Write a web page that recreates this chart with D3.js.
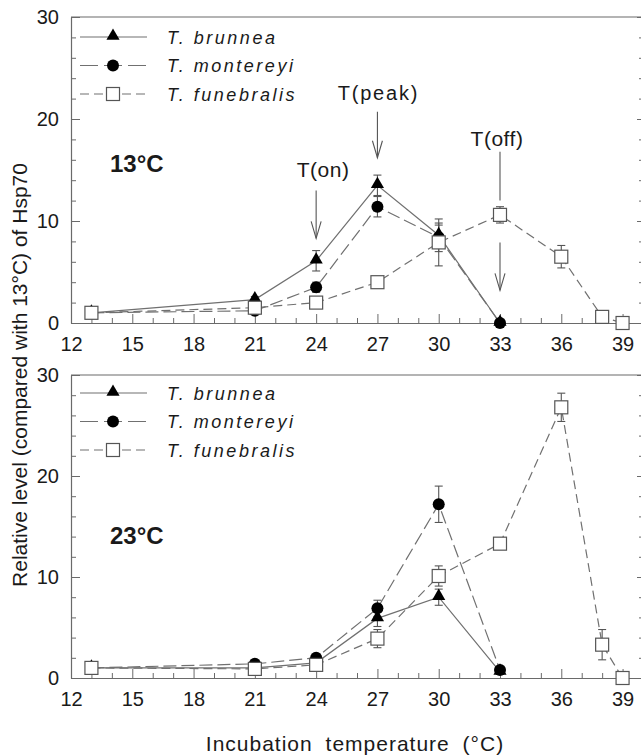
<!DOCTYPE html>
<html>
<head>
<meta charset="utf-8">
<script src="https://cdn.jsdelivr.net/npm/d3@7"></script>
<style>
  body { margin: 0; background: #fff; }
  svg text { font-family: "Liberation Sans", Arial, sans-serif; fill: #1a1a1a; }
</style>
</head>
<body>
<svg id="chart" width="641" height="756"></svg>
<script>
////////////////////////////////////////////////////////////
// DATA
////////////////////////////////////////////////////////////
var series_names = ["T. brunnea", "T. montereyi", "T. funebralis"];
var temps_short = [13, 21, 24, 27, 30, 33];
var temps_long = [13, 21, 24, 27, 30, 33, 36, 38, 39];

// 13°C acclimated
var brunnea13 = [1.0, 2.3, 6.1, 13.5, 8.6, 0];
var brunnea13_err = [0.3, 0.3, 1.0, 1.0, 1.0, 0];
var montereyi13 = [1.0, 1.2, 3.5, 11.4, 8.4, 0];
var montereyi13_err = [0.2, 0.3, 0.5, 1.0, 1.4, 0];
var funebralis13 = [1.0, 1.5, 2.0, 4.0, 7.9, 10.6, 6.5, 0.6, 0];
var funebralis13_err = [0.2, 0.2, 0.2, 0.3, 2.3, 0.8, 1.1, 0.2, 0];

// 23°C acclimated
var brunnea23 = [1.0, 1.0, 1.5, 5.9, 8.0, 0.6];
var brunnea23_err = [0.2, 0.2, 0.2, 0.8, 0.8, 0.1];
var montereyi23 = [1.0, 1.4, 2.0, 6.9, 17.2, 0.8];
var montereyi23_err = [0.2, 0.2, 0.2, 0.8, 1.8, 0.1];
var funebralis23 = [1.0, 0.9, 1.3, 3.9, 10.1, 13.3, 26.8, 3.3, 0];
var funebralis23_err = [0.4, 0.2, 0.2, 0.9, 1.0, 0, 1.4, 1.5, 0];

var x_major = [12, 15, 18, 21, 24, 27, 30, 33, 36, 39];
var y_major = [0, 10, 20, 30];

// annotation arrows (temperature, top value, tip value) for the 13°C panel
var arrow_temps = [24, 27, 33, 33];
var arrow_tops = [13.0, 20.7, 16.8, 7.9];
var arrow_tips = [8.3, 16.2, 12.0, 3.2];
var arrow_heads = [true, true, false, true];

////////////////////////////////////////////////////////////
// DRAWING
////////////////////////////////////////////////////////////
var svg = d3.select("#chart");
var AXIS = "#6a6a6a";
var LINE = "#707070";

var x = d3.scaleLinear().domain([12, 40]).range([71, 643]);
var x_minor = d3.range(12, 41).filter(function(v) { return x_major.indexOf(v) < 0; });
var y_minor = d3.range(0, 31, 2).filter(function(v) { return y_major.indexOf(v) < 0; });

var styles = [
    {dash: null, marker: "triangle"},
    {dash: "13,5", marker: "circle"},
    {dash: "9,5", marker: "square"}
];

function draw_marker(g, kind, cx, cy) {
    if (kind == "triangle") {
        g.append("path")
            .attr("d", d3.symbol().type(d3.symbolTriangle).size(75)())
            .attr("transform", "translate(" + cx + "," + (cy - 1) + ")")
            .attr("fill", "#000");
    } else if (kind == "circle") {
        g.append("circle").attr("cx", cx).attr("cy", cy).attr("r", 6).attr("fill", "#000");
    } else {
        g.append("rect").attr("x", cx - 6.5).attr("y", cy - 6.5)
            .attr("width", 13).attr("height", 13)
            .attr("fill", "#fff").attr("stroke", "#555").attr("stroke-width", 1.2);
    }
}

function make_panel(top, bottom, label, label_y, data, legend_y) {
    var y = d3.scaleLinear().domain([0, 30]).range([bottom, top]);
    var g = svg.append("g");

    // frame: top border and right ticks
    g.append("line").attr("x1", 71).attr("x2", 643).attr("y1", top).attr("y2", top)
        .attr("stroke", AXIS).attr("stroke-width", 1.2);
    g.append("g").attr("transform", "translate(643,0)")
        .call(d3.axisRight(y).tickValues(y_major).tickSize(-6).tickFormat(""))
        .call(function(a) { a.select(".domain").attr("stroke", AXIS); a.selectAll("line").attr("stroke", AXIS); });
    g.append("g").attr("transform", "translate(643,0)")
        .call(d3.axisRight(y).tickValues(y_minor).tickSize(-4).tickFormat(""))
        .call(function(a) { a.select(".domain").remove(); a.selectAll("line").attr("stroke", AXIS); });

    // x axis
    var xa = g.append("g").attr("transform", "translate(0," + bottom + ")")
        .call(d3.axisBottom(x).tickValues(x_major).tickSizeInner(-9).tickSizeOuter(0).tickPadding(14));
    xa.select(".domain").attr("stroke", AXIS).attr("stroke-width", 1.2);
    xa.selectAll("line").attr("stroke", AXIS);
    xa.selectAll("text").attr("font-size", 20).attr("fill", "#1a1a1a")
        .attr("font-family", "Liberation Sans, Arial, sans-serif");
    g.append("g").attr("transform", "translate(0," + bottom + ")")
        .call(d3.axisBottom(x).tickValues(x_minor).tickSize(-5).tickFormat(""))
        .call(function(a) { a.select(".domain").remove(); a.selectAll("line").attr("stroke", AXIS); });

    // y axis
    var ya = g.append("g").attr("transform", "translate(71,0)")
        .call(d3.axisLeft(y).tickValues(y_major).tickSizeInner(-9).tickSizeOuter(0).tickPadding(12));
    ya.select(".domain").attr("stroke", AXIS).attr("stroke-width", 1.2);
    ya.selectAll("line").attr("stroke", AXIS);
    ya.selectAll("text").attr("font-size", 20).attr("fill", "#1a1a1a")
        .attr("font-family", "Liberation Sans, Arial, sans-serif");
    g.append("g").attr("transform", "translate(71,0)")
        .call(d3.axisLeft(y).tickValues(y_minor).tickSize(-5).tickFormat(""))
        .call(function(a) { a.select(".domain").remove(); a.selectAll("line").attr("stroke", AXIS); });

    // lines
    data.forEach(function(s, k) {
        var pts = s.temps.map(function(t, i) { return {t: t, v: s.vals[i], e: s.errs[i]}; });
        var line = d3.line().x(function(d) { return x(d.t); }).y(function(d) { return y(d.v); });
        g.append("path").datum(pts)
            .attr("fill", "none").attr("stroke", LINE).attr("stroke-width", 1.2)
            .attr("stroke-dasharray", styles[k].dash)
            .attr("d", line);
    });
    // error bars
    data.forEach(function(s, k) {
        s.temps.forEach(function(t, i) {
            var e = s.errs[i];
            if (e > 0) {
                var cx = x(t), y1 = y(s.vals[i] + e), y2 = y(s.vals[i] - e);
                g.append("line").attr("x1", cx).attr("x2", cx).attr("y1", y1).attr("y2", y2)
                    .attr("stroke", "#555").attr("stroke-width", 1.1);
                [y1, y2].forEach(function(yy) {
                    g.append("line").attr("x1", cx - 4).attr("x2", cx + 4).attr("y1", yy).attr("y2", yy)
                        .attr("stroke", "#555").attr("stroke-width", 1.1);
                });
            }
        });
    });
    // markers
    data.forEach(function(s, k) {
        s.temps.forEach(function(t, i) {
            draw_marker(g, styles[k].marker, x(s.temps[i]), y(s.vals[i]));
        });
    });

    // legend
    series_names.forEach(function(name, k) {
        var ly = legend_y + k * 28.5;
        g.append("line").attr("x1", 80).attr("x2", 147).attr("y1", ly).attr("y2", ly)
            .attr("stroke", LINE).attr("stroke-width", 1.2)
            .attr("stroke-dasharray", k == 0 ? null : (k == 1 ? "18,6" : "9,5"));
        draw_marker(g, styles[k].marker, 113, ly);
        g.append("text").attr("x", 167).attr("y", ly + 6.5)
            .attr("font-size", 18).attr("font-style", "italic")
            .attr("letter-spacing", 2.5)
            .text(name);
    });

    // panel label
    g.append("text").attr("x", 110).attr("y", label_y)
        .attr("font-size", 24).attr("font-weight", "bold").text(label);

    return y;
}

var yTop = make_panel(17, 323, "13°C", 172, [
    {temps: temps_short, vals: brunnea13, errs: brunnea13_err},
    {temps: temps_short, vals: montereyi13, errs: montereyi13_err},
    {temps: temps_long, vals: funebralis13, errs: funebralis13_err}
], 37);

make_panel(375, 678, "23°C", 544, [
    {temps: temps_short, vals: brunnea23, errs: brunnea23_err},
    {temps: temps_short, vals: montereyi23, errs: montereyi23_err},
    {temps: temps_long, vals: funebralis23, errs: funebralis23_err}
], 393);

// annotations in the top panel
arrow_temps.forEach(function(t, i) {
    var ax = x(t), y1 = yTop(arrow_tops[i]), y2 = yTop(arrow_tips[i]);
    svg.append("line").attr("x1", ax).attr("x2", ax).attr("y1", y1).attr("y2", y2)
        .attr("stroke", "#555").attr("stroke-width", 1.1);
    if (arrow_heads[i]) {
        svg.append("path")
            .attr("d", "M" + (ax - 5) + "," + (y2 - 17) + "L" + ax + "," + y2 + "L" + (ax + 5) + "," + (y2 - 17))
            .attr("fill", "none").attr("stroke", "#555").attr("stroke-width", 1.1);
    }
});
svg.append("text").attr("x", x(24) + 7).attr("y", yTop(arrow_tops[0]) - 13)
    .attr("text-anchor", "middle").attr("font-size", 21).attr("letter-spacing", 0.5).text("T(on)");
svg.append("text").attr("x", x(27) + 1).attr("y", yTop(arrow_tops[1]) - 12)
    .attr("text-anchor", "middle").attr("font-size", 20).attr("letter-spacing", 1.8).text("T(peak)");
svg.append("text").attr("x", x(33) - 3).attr("y", yTop(arrow_tops[2]) - 6)
    .attr("text-anchor", "middle").attr("font-size", 21).attr("letter-spacing", 0.5).text("T(off)");

// axis titles
svg.append("text").attr("x", 355).attr("y", 751)
    .attr("text-anchor", "middle").attr("font-size", 21).attr("letter-spacing", 1)
    .attr("word-spacing", 6)
    .text("Incubation temperature (°C)");
svg.append("text")
    .attr("transform", "translate(27,375) rotate(-90)")
    .attr("text-anchor", "middle").attr("font-size", 21)
    .text("Relative level (compared with 13°C) of Hsp70");
</script>
</body>
</html>
